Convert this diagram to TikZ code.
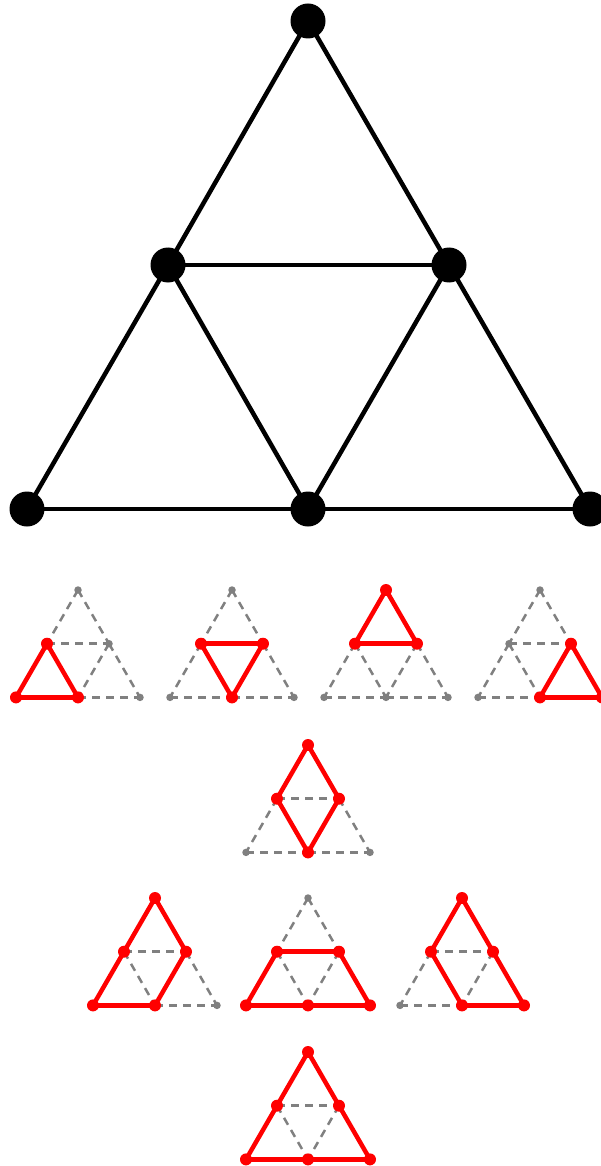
\documentclass[tikz,border=0pt]{standalone}
\usetikzlibrary{backgrounds}
\tikzset{
  bdot/.style={circle,fill=black,inner sep=0pt,minimum size=35pt},
  rdot/.style={circle,fill=red,inner sep=0pt,minimum size=12pt},
  gdot/.style={circle,fill=gray,inner sep=0pt,minimum size=7.5pt},
  bedge/.style={black,line width=4.5pt},
  redge/.style={red,line width=4.5pt},
  gedge/.style={gray,line width=2.5pt,dash pattern=on 8pt off 6pt},
}
% #1 prefix, #2 x of bottom-left, #3 y of apex, #4..#9 styles of t,l,r,a,b,c
\newcommand\trinodes[9]{%
  \node[#4] (#1t) at ({#2+62},{#3}) {};
  \node[#5] (#1l) at ({#2+31},{#3+53.7}) {};
  \node[#6] (#1r) at ({#2+93},{#3+53.7}) {};
  \node[#7] (#1a) at ({#2},{#3+107.4}) {};
  \node[#8] (#1b) at ({#2+62},{#3+107.4}) {};
  \node[#9] (#1c) at ({#2+124},{#3+107.4}) {};
}
\newcommand\triedges[3]{%
  \foreach \p/\q in {#3} {\draw[#2] (#1\p.center) -- (#1\q.center);}
}
\begin{document}
\begin{tikzpicture}[x=1pt,y=-1pt]
\useasboundingbox (0,0) rectangle (600,1166);
% big triangle
\node[bdot] (T) at (308,21) {};
\node[bdot] (L) at (168,265) {};
\node[bdot] (R) at (449,265) {};
\node[bdot] (A) at (27,509) {};
\node[bdot] (B) at (308,509) {};
\node[bdot] (C) at (590,509) {};
\begin{scope}[on background layer]
\draw[bedge] (T.center) -- (L.center);
\draw[bedge] (T.center) -- (R.center);
\draw[bedge] (L.center) -- (R.center);
\draw[bedge] (L.center) -- (A.center);
\draw[bedge] (L.center) -- (B.center);
\draw[bedge] (R.center) -- (B.center);
\draw[bedge] (R.center) -- (C.center);
\draw[bedge] (A.center) -- (B.center);
\draw[bedge] (B.center) -- (C.center);
\end{scope}

% row 1
\trinodes{P}{16}{590}{gdot}{rdot}{gdot}{rdot}{rdot}{gdot}
\trinodes{Q}{170}{590}{gdot}{rdot}{rdot}{gdot}{rdot}{gdot}
\trinodes{S}{324}{590}{rdot}{rdot}{rdot}{gdot}{gdot}{gdot}
\trinodes{U}{478}{590}{gdot}{gdot}{rdot}{gdot}{rdot}{rdot}
% row 2
\trinodes{V}{246}{745}{rdot}{rdot}{rdot}{gdot}{rdot}{gdot}
% row 3
\trinodes{W}{93}{898}{rdot}{rdot}{rdot}{rdot}{rdot}{gdot}
\trinodes{X}{246}{898}{gdot}{rdot}{rdot}{rdot}{rdot}{rdot}
\trinodes{Y}{400}{898}{rdot}{rdot}{rdot}{gdot}{rdot}{rdot}
% row 4
\trinodes{Z}{246}{1052}{rdot}{rdot}{rdot}{rdot}{rdot}{rdot}

\begin{scope}[on background layer]
\triedges{P}{gedge}{t/l,t/r,l/r,r/b,r/c,b/c}
\triedges{P}{redge}{l/a,l/b,a/b}
\triedges{Q}{gedge}{t/l,t/r,l/a,r/c,a/b,b/c}
\triedges{Q}{redge}{l/r,l/b,r/b}
\triedges{S}{gedge}{l/a,l/b,r/b,r/c,a/b,b/c}
\triedges{S}{redge}{t/l,t/r,l/r}
\triedges{U}{gedge}{t/l,t/r,l/r,l/a,l/b,a/b}
\triedges{U}{redge}{r/b,r/c,b/c}
\triedges{V}{gedge}{l/r,l/a,r/c,a/b,b/c}
\triedges{V}{redge}{t/l,t/r,l/b,r/b}
\triedges{W}{gedge}{l/r,l/b,r/c,b/c}
\triedges{W}{redge}{t/l,t/r,l/a,r/b,a/b}
\triedges{X}{gedge}{t/l,t/r,l/b,r/b}
\triedges{X}{redge}{l/r,l/a,r/c,a/b,b/c}
\triedges{Y}{gedge}{l/r,l/a,r/b,a/b}
\triedges{Y}{redge}{t/l,t/r,l/b,r/c,b/c}
\triedges{Z}{gedge}{l/r,l/b,r/b}
\triedges{Z}{redge}{t/l,t/r,l/a,r/c,a/b,b/c}
\end{scope}
\end{tikzpicture}
\end{document}
